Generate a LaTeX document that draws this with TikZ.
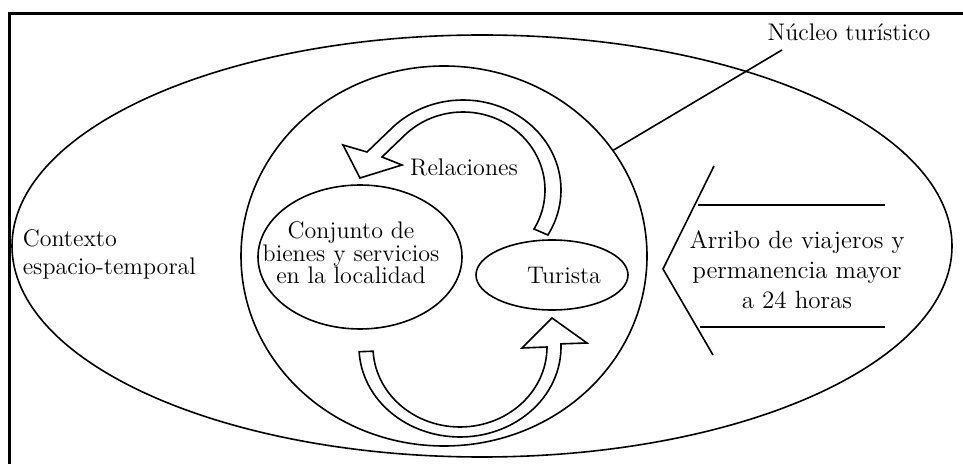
\documentclass[tikz,border=0pt]{standalone}
\usetikzlibrary{shapes.geometric}
\begin{document}
\begin{tikzpicture}[x=0.5pt,y=-0.5pt,
  line width=0.8pt,
  ell/.style={draw, ellipse, inner sep=0pt},
  lbl/.style={font=\fontsize{12}{14}\selectfont, inner sep=0pt, align=center},
  band/.style={line width=0.8pt, line join=miter, fill=white}]
\useasboundingbox (0,0) rectangle (963,464);
% frame
\draw[line width=1.25pt] (9.5,464) -- (9.5,13.5) -- (963,13.5);
% ellipses
\node[ell, minimum width=470pt, minimum height=211pt] (ctx) at (482,246) {};
\node[ell, minimum width=203pt, minimum height=190pt] (nuc) at (444,256) {};
\node[ell, minimum width=102pt, minimum height=72pt] (cbs) at (360,257) {};
\node[ell, minimum width=76pt, minimum height=35pt] (tur) at (552,275) {};
% texts
\node[lbl, anchor=west, align=left] (ctxt) at (22,254) {Contexto\\espacio-temporal};
\node[lbl] (nlab) at (849,32) {Núcleo turístico};
\node[lbl] (rel) at (464,167) {Relaciones};
\node[lbl, font=\fontsize{12}{11.25}\selectfont] (cbstxt) at (351,253) {Conjunto de\\bienes y servicios\\en la localidad};
\node[lbl] (turtxt) at (564,275) {Turista};
\node[lbl, font=\fontsize{12.5}{15}\selectfont] (arr) at (797,270) {Arribo de viajeros y\\permanencia mayor\\a 24 horas};
% pointer to nucleus
\coordinate (nl) at (782,50);
\draw (nl) -- (nuc.32);
% chevron
\draw[line join=miter] (714,166) -- (663,269) -- (713,355);
\draw (698,205) -- (885,205);
\draw (700,327) -- (885,327);
% top hollow arrow (Relaciones)
\draw[band] (367,152)
  -- plot[domain=-135:30, samples=60] ({463+98*cos(\x)},{190+90*sin(\x)})
  -- plot[domain=30:-135, samples=60] ({463+82*cos(\x)},{190+78*sin(\x)})
  -- (382,157) -- (402,165) -- (360,178) -- (343,145) -- cycle;
% bottom hollow arrow
\draw[band] plot[domain=177:-2, samples=60] ({460+101*cos(\x)},{347+90*sin(\x)})
  -- (587,343) -- (552,318) -- (522,348)
  -- plot[domain=0:177, samples=60] ({460+87*cos(\x)},{347+80*sin(\x)})
  -- cycle;
\end{tikzpicture}
\end{document}
